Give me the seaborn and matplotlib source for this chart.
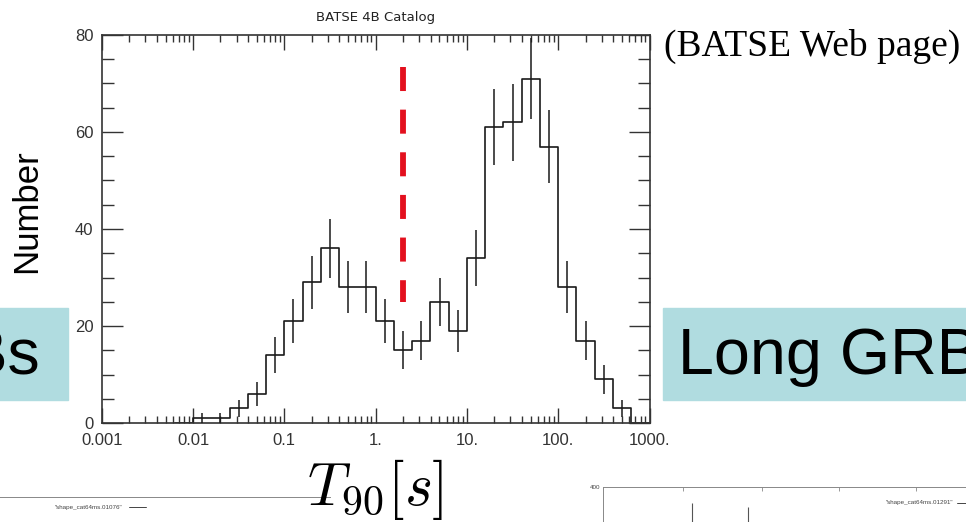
import numpy as np
import pandas as pd
import matplotlib
matplotlib.use("Agg")
import matplotlib.pyplot as plt
import seaborn as sns
from matplotlib.patches import Rectangle
from matplotlib.ticker import FixedLocator, LogLocator, MultipleLocator, NullFormatter

# ---------------- data ----------------
title = "BATSE 4B Catalog"
bin_log_edges = [-2.2, -2.0, -1.8, -1.6, -1.4, -1.2, -1.0, -0.8, -0.6, -0.4, -0.2,
                 0.0, 0.2, 0.4, 0.6, 0.8, 1.0, 1.2, 1.4, 1.6, 1.8, 2.0, 2.2, 2.4,
                 2.6, 2.8, 3.0]
counts = [0, 1, 1, 3, 6, 14, 21, 29, 36, 28, 28, 21, 15, 17, 25, 19, 34, 61, 62,
          71, 57, 28, 17, 9, 3, 0]
count_err = [0, 1.0, 1.0, 1.7, 2.4, 3.7, 4.6, 5.4, 6.0, 5.3, 5.3, 4.6, 3.9, 4.1,
             5.0, 4.4, 5.8, 7.8, 7.9, 8.4, 7.5, 5.3, 4.1, 3.0, 1.7, 0]
x_ticks = [0.001, 0.01, 0.1, 1, 10, 100, 1000]
x_tick_labels = ["0.001", "0.01", "0.1", "1.", "10.", "100.", "1000."]
y_ticks = [0, 20, 40, 60, 80]
split_T90 = 2.0
split_range = [73.5, 25.0]

# cropped neighbouring panels (fragments at the bottom of the slide)
right_inset_spike_x = [89, 145]
right_inset_spike_top = [343, 329]
right_inset_ticks = [80, 159, 236, 313]

# ---------------- style ----------------
sns.set_style("white")
plt.rcParams["font.family"] = ["Liberation Sans", "DejaVu Sans"]
plt.rcParams["mathtext.fontset"] = "cm"

W, H = 966, 522
fig = plt.figure(figsize=(W / 100, H / 100), dpi=100)
fig.patch.set_facecolor("white")

def fx(px):
    return px / W

def fy(py):
    return 1 - py / H

ax = fig.add_axes([fx(101.7), fy(423), fx(649.5) - fx(101.7), fy(35) - fy(423)])

centers = [10 ** ((a + b) / 2) for a, b in zip(bin_log_edges[:-1], bin_log_edges[1:])]
df = pd.DataFrame({"T90": centers, "N": counts, "err": count_err})

sns.histplot(data=df, x="T90", weights="N", bins=bin_log_edges, log_scale=True,
             element="step", fill=False, color="#1a1a1a", linewidth=1.2, ax=ax)

nz = df[df["N"] > 0]
ax.errorbar(nz["T90"], nz["N"], yerr=nz["err"], fmt="none", ecolor="#1a1a1a",
            elinewidth=1.1, capsize=0, zorder=3)

red, = ax.plot([split_T90, split_T90], split_range, color="#e3101e", lw=4.2,
               solid_capstyle="butt", dash_capstyle="butt", zorder=4)
red.set_dashes((17.3 / 4.2, 13.4 / 4.2))

ax.set_xlim(1e-3, 1e3)
ax.set_ylim(0, 80)
ax.set_xlabel("")
ax.set_ylabel("")
ax.xaxis.set_major_locator(FixedLocator(x_ticks))
ax.set_xticklabels(x_tick_labels)
ax.xaxis.set_minor_locator(LogLocator(base=10, subs=range(2, 10), numticks=30))
ax.xaxis.set_minor_formatter(NullFormatter())
ax.yaxis.set_major_locator(FixedLocator(y_ticks))
ax.yaxis.set_minor_locator(MultipleLocator(5))

ax.tick_params(axis="x", which="major", direction="in", length=11, width=1.0,
               top=True, bottom=True, pad=7, labelsize=12, labelcolor="#333333",
               color="#333333")
ax.tick_params(axis="x", which="minor", direction="in", length=5, width=1.0,
               top=True, bottom=True, color="#333333")
ax.tick_params(axis="y", which="major", direction="in", length=15, width=1.0,
               left=True, right=True, pad=6, labelsize=12, labelcolor="#333333",
               color="#333333")
ax.tick_params(axis="y", which="minor", direction="in", length=8.5, width=1.0,
               left=True, right=True, color="#333333")
for s in ax.spines.values():
    s.set_visible(True)
    s.set_color("#333333")
    s.set_linewidth(1.2)

ax.set_title(title, fontsize=9.5, pad=10, family=["DejaVu Sans"], color="#222222")

# ---------------- slide decorations ----------------
fig.text(fx(27), fy(211), "Number", rotation=90, ha="center", va="center",
         fontsize=25, color="black")
fig.text(fx(375), fy(489), r"$T_{90}[s]$", ha="center", va="center",
         fontsize=43, color="black")
fig.text(fx(664), fy(46), "(BATSE Web page)", ha="left", va="center",
         fontsize=27, family=["Liberation Serif"], color="black")

teal = "#b0dce0"
fig.add_artist(Rectangle((fx(663), fy(400)), fx(966) - fx(663) + 0.01, fy(308) - fy(400),
                         transform=fig.transFigure, color=teal, zorder=0))
fig.add_artist(Rectangle((-0.01, fy(400)), fx(68) + 0.01, fy(308) - fy(400),
                         transform=fig.transFigure, color=teal, zorder=0))
fig.text(fx(678), fy(374), "Long GRBs", ha="left", va="baseline", fontsize=46.5,
         color="black")
fig.text(fx(40), fy(374), "Short GRBs", ha="right", va="baseline", fontsize=46.5,
         color="black")

# left cropped panel
axl = fig.add_axes([fx(-5), fy(600), fx(330) - fx(-5), fy(497) - fy(600)])
axl.set_xlim(0, 335)
axl.set_ylim(0, 400)
for k, s in axl.spines.items():
    s.set_visible(k == "top")
    s.set_color("#888888")
    s.set_linewidth(0.7)
axl.set_xticks([])
axl.set_yticks([])
axl.patch.set_alpha(0)
axl.text(0.38, 0.9, '"shape_cat64ms.01076"', transform=axl.transAxes, ha="right",
         va="center", fontsize=4.5, color="#444444")
axl.plot([0.40, 0.45], [0.9, 0.9], transform=axl.transAxes, color="#444444", lw=0.7)

# right cropped panel
axr = fig.add_axes([fx(603), fy(600), fx(980) - fx(603), fy(487) - fy(600)])
axr.set_xlim(0, 377)
axr.set_ylim(0, 400)
for k, s in axr.spines.items():
    s.set_visible(k in ("top", "left"))
    s.set_color("#888888")
    s.set_linewidth(0.7)
axr.set_xticks(right_inset_ticks)
axr.set_xticklabels([])
axr.set_yticks([400])
axr.set_yticklabels(["400"])
axr.tick_params(axis="both", direction="in", length=3, width=0.6, color="#888888",
                labelsize=4.5, labelcolor="#444444", top=True, bottom=False, pad=2)
axr.vlines(right_inset_spike_x, 0, right_inset_spike_top, color="#555555", lw=0.8)
axr.patch.set_alpha(0)
axr.text(0.93, 0.86, '"shape_cat64ms.01291"', transform=axr.transAxes, ha="right",
         va="center", fontsize=4.5, color="#444444")
axr.plot([0.94, 0.98], [0.86, 0.86], transform=axr.transAxes, color="#444444", lw=0.7)

fig.savefig("out.png", dpi=100, facecolor="white")
